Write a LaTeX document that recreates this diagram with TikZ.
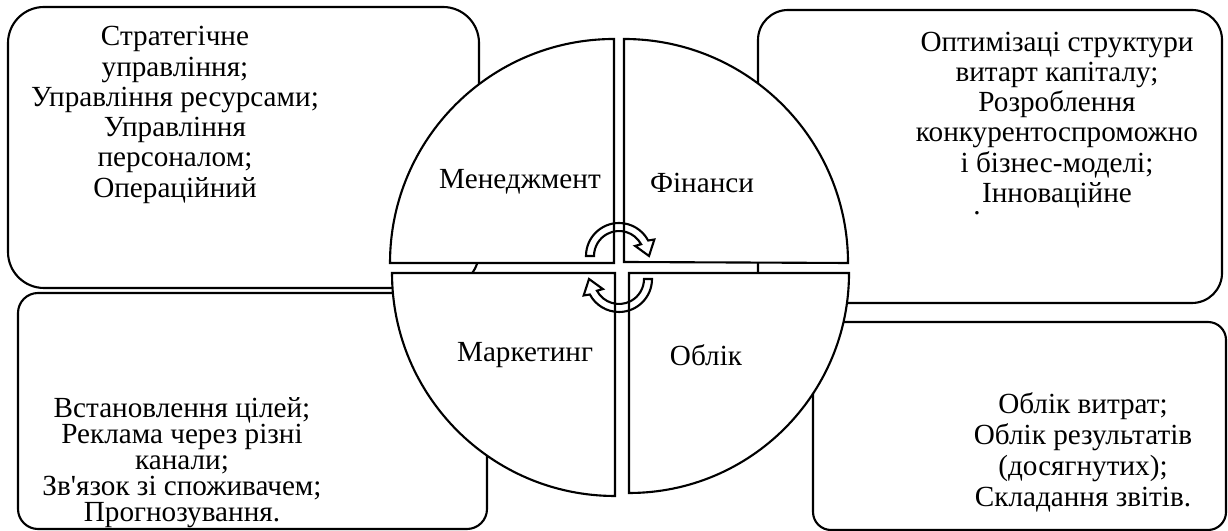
\documentclass[tikz,border=0pt]{standalone}
\usepackage{fontspec}
\setmainfont{Liberation Serif}

\begin{document}
\begin{tikzpicture}[x=0.01cm, y=0.01cm,
        outline/.style={draw, line width=0.6pt, fill=white},
        txt/.style={align=center, inner sep=0pt, font=\fontsize{8.3}{8.6}\selectfont},
        sector/.style={inner sep=0pt, font=\fontsize{8.3}{8.6}\selectfont},
        turn/.pic={
            \draw[line width=0.6pt] (180:25) -- (180:33) arc[start angle=180, end angle=28, radius=33]
                -- (25:39) -- (0:30) -- (32:19) -- (28:25) arc[start angle=28, end angle=180, radius=25] -- cycle;
        }
    ]
    \useasboundingbox (0,0) rectangle (1228,531);

    % Boxes
    \draw[outline, rounded corners=0.36cm] (8,243) rectangle (479,524);
    \draw[outline, rounded corners=0.3cm] (758,228) rectangle (1222,521);
    \draw[outline, rounded corners=0.2cm] (18,2) rectangle (487,238);
    \draw[outline, rounded corners=0.18cm] (813,1) rectangle (1226,209);

    % Circle in four parts
    \draw[outline] (614,268) -- ++(-224,0) arc[start angle=180, end angle=90, radius=224] -- cycle;
    \draw[outline] (624,269) -- ++(0,223) arc[start angle=90, end angle=0, radius=224] -- cycle;
    \draw[outline] (615,258) -- ++(-223,0) arc[start angle=180, end angle=270, radius=223] -- cycle;
    \draw[outline] (629,258) -- ++(220,0) arc[start angle=0, end angle=-90, radius=220] -- cycle;

    % Labels of the parts
    \node[sector] (mgmt) at (520,349) {Менеджмент};
    \node[sector] (fin) at (702,348) {Фінанси};
    \node[sector] (mkt) at (525,176) {Маркетинг};
    \node[sector] (acc) at (706,176) {Облік};

    % Texts in the boxes
    \node[txt] (mgmtlist) at (175,416) {Стратегічне\\управління;\\Управління ресурсами;\\Управління\\персоналом;\\Операційний};
    \node[txt] (finlist) at (1057,411) {Оптимізаці структури\\витарт капіталу;\\Розроблення\\конкурентоспроможно\\і бізнес-моделі;\\Інноваційне};
    \node[sector] (findot) at (977,318) {.};
    \node[txt, font=\fontsize{8.3}{7.4}\selectfont] (mktlist) at (182,68) {Встановлення цілей;\\Реклама через різні\\канали;\\Зв\textquotesingle язок зі споживачем;\\Прогнозування.};
    \node[txt, font=\fontsize{8.3}{8.8}\selectfont] (acclist) at (1083,79) {Облік витрат;\\Облік результатів\\(досягнутих);\\Складання звітів.};

    % Turning arrows
    \pic at (619,275) {turn};
    \pic[rotate=180] at (619,252) {turn};

\end{tikzpicture}
\end{document}
